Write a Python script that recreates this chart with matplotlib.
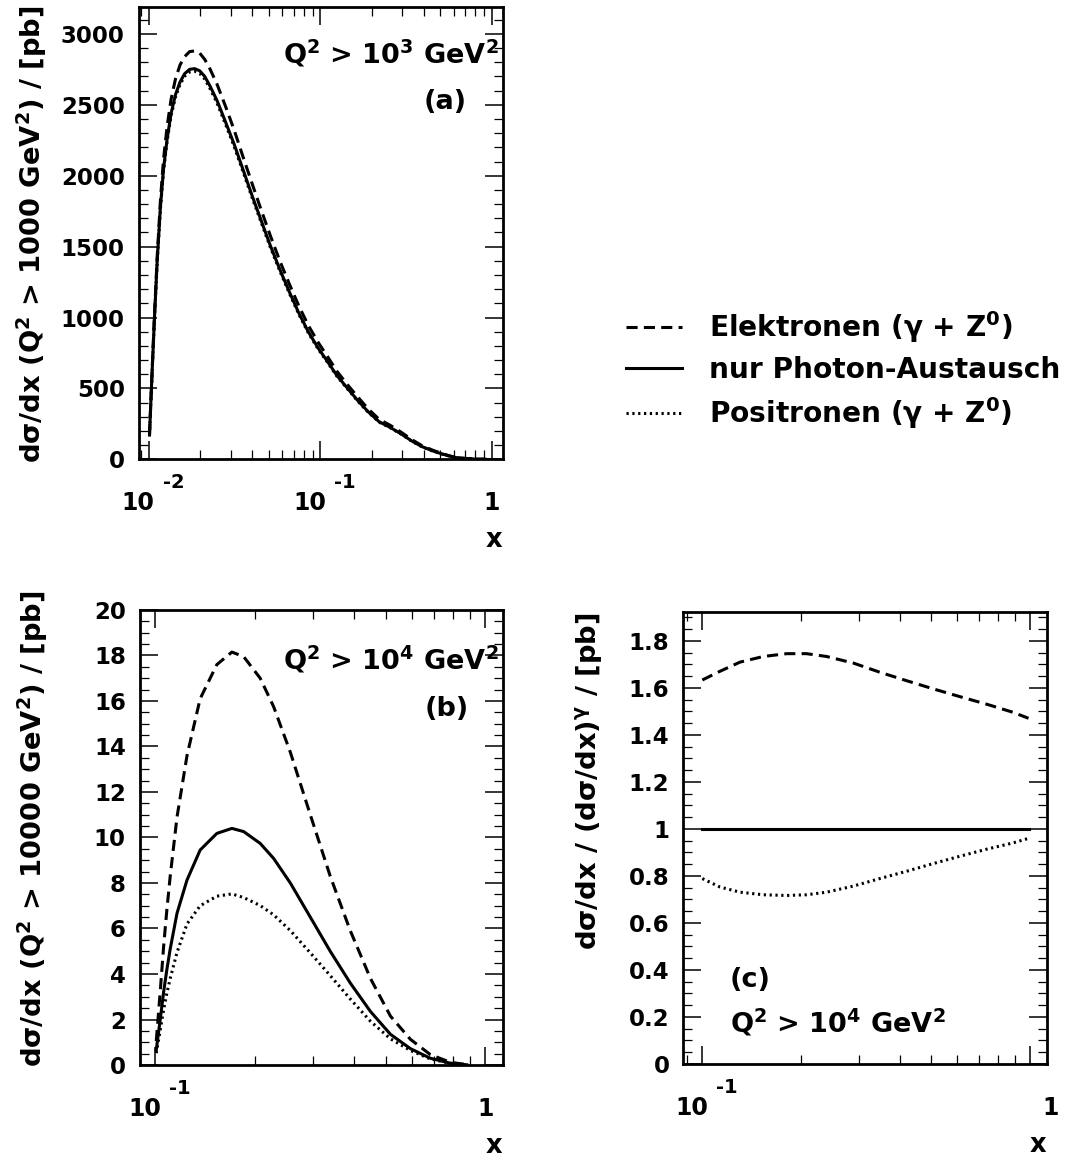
import matplotlib
matplotlib.use("Agg")
import matplotlib.pyplot as plt
from matplotlib.ticker import FixedLocator, LogLocator, NullFormatter, MultipleLocator, FormatStrFormatter
from matplotlib.transforms import blended_transform_factory, offset_copy

plt.rcParams['font.family'] = ['DejaVu Sans']
plt.rcParams['font.weight'] = 'bold'
plt.rcParams['mathtext.fontset'] = 'custom'
plt.rcParams['mathtext.rm'] = 'DejaVu Sans:bold'
plt.rcParams['mathtext.it'] = 'DejaVu Sans:bold'
plt.rcParams['mathtext.bf'] = 'DejaVu Sans:bold'
plt.rcParams['mathtext.sf'] = 'DejaVu Sans:bold'
plt.rcParams['mathtext.default'] = 'rm'
plt.rcParams['lines.scale_dashes'] = False

# panel (a): Q2 > 1000 GeV2
x_a = [0.0101, 0.0103, 0.0105, 0.0108, 0.0112, 0.0117, 0.0122, 0.0128, 0.0135, 0.0143,
       0.0152, 0.0162, 0.0173, 0.0185, 0.0198, 0.0212, 0.0228, 0.0250, 0.0280, 0.0315,
       0.0355, 0.040, 0.045, 0.051, 0.058, 0.066, 0.075, 0.085, 0.097, 0.11,
       0.125, 0.143, 0.165, 0.19, 0.22, 0.255, 0.295, 0.34, 0.39, 0.45,
       0.52, 0.60, 0.69, 0.80, 0.92]
gamma_a = [171, 420, 660, 1000, 1400, 1780, 2050, 2260, 2440, 2570,
           2660, 2720, 2750, 2755, 2740, 2700, 2630, 2530, 2380, 2220,
           2040, 1860, 1690, 1510, 1340, 1180, 1030, 900, 785, 690,
           590, 505, 415, 335, 265, 225, 180, 130, 90, 60,
           35, 14, 6, 1.5, 0]
elec_a = [172, 425, 670, 1020, 1430, 1830, 2120, 2350, 2540, 2680,
          2780, 2840, 2875, 2880, 2865, 2820, 2750, 2645, 2490, 2320,
          2130, 1945, 1765, 1580, 1400, 1235, 1080, 945, 825, 725,
          620, 530, 440, 355, 282, 240, 192, 140, 97, 65,
          38, 16, 7, 2, 0]
pos_a = [171, 418, 656, 993, 1390, 1768, 2036, 2245, 2424, 2553,
         2642, 2702, 2731, 2736, 2721, 2681, 2612, 2512, 2363, 2204,
         2025, 1846, 1677, 1498, 1329, 1170, 1021, 892, 778, 684,
         585, 500, 411, 332, 262, 223, 178, 129, 89, 59,
         35, 14, 6, 1.5, 0]

# panel (b): Q2 > 10000 GeV2
x_b = [0.1007, 0.1035, 0.106, 0.1084, 0.111, 0.1164, 0.1248, 0.1368, 0.1537, 0.1707,
       0.1853, 0.208, 0.2284, 0.2566, 0.295, 0.339, 0.390, 0.449, 0.516, 0.593,
       0.681, 0.783, 0.879]
gamma_b = [0.66, 1.98, 3.2, 4.18, 5.1, 6.67, 8.13, 9.45, 10.18, 10.40,
           10.26, 9.74, 9.08, 8.0, 6.5, 5.0, 3.6, 2.35, 1.35, 0.72,
           0.30, 0.08, 0.01]
elec_b = [1.05, 3.2, 5.2, 6.8, 8.3, 10.9, 13.6, 16.1, 17.6, 18.15,
          17.95, 17.0, 15.75, 13.75, 11.0, 8.3, 5.9, 3.8, 2.15, 1.13,
          0.46, 0.12, 0.015]
pos_b = [0.52, 1.52, 2.42, 3.15, 3.8, 4.95, 6.2, 7.0, 7.42, 7.52,
         7.36, 7.01, 6.60, 5.91, 4.93, 3.93, 2.90, 1.92, 1.15, 0.64,
         0.27, 0.073, 0.01]

# panel (c): ratio to photon exchange only
x_c = [0.1, 0.1132, 0.1303, 0.1535, 0.1808, 0.208, 0.2393, 0.289, 0.348, 0.420,
       0.507, 0.611, 0.737, 0.889, 0.989]
elec_c = [1.634, 1.671, 1.710, 1.734, 1.746, 1.746, 1.734, 1.706, 1.667, 1.631,
          1.596, 1.563, 1.531, 1.496, 1.471]
gamma_c = [1.0, 1.0, 1.0, 1.0, 1.0, 1.0, 1.0, 1.0, 1.0, 1.0,
           1.0, 1.0, 1.0, 1.0, 1.0]
pos_c = [0.789, 0.753, 0.731, 0.720, 0.717, 0.720, 0.731, 0.757, 0.789, 0.820,
         0.853, 0.884, 0.914, 0.941, 0.960]

# x tick labels: base and exponent
xt_a = [0.01, 0.1, 1]
xt_base_a = ['10', '10', '1']
xt_exp_a = ['-2', '-1', '']
xt_bc = [0.1, 1]
xt_base_bc = ['10', '1']
xt_exp_bc = ['-1', '']

labels = [r'Elektronen ($\gamma$ + Z$^0$)', 'nur Photon-Austausch', r'Positronen ($\gamma$ + Z$^0$)']

LW = 2.2
DASH = (0, (8, 4.5))
DOT = (0, (1.6, 2.6))
TICK_FS = 16.5
TEXT_FS = 19.5
YLAB_FS = 19.7


def style_axis(ax, xlim, ylim, xticks, xbase, xexp, ymaj, ymin, last_dx=0):
    ax.set_xscale('log')
    ax.set_xlim(*xlim)
    ax.set_ylim(*ylim)
    ax.xaxis.set_major_locator(FixedLocator(xticks))
    ax.xaxis.set_minor_locator(LogLocator(base=10, subs=range(2, 10)))
    ax.xaxis.set_minor_formatter(NullFormatter())
    ax.yaxis.set_major_locator(MultipleLocator(ymaj))
    ax.yaxis.set_minor_locator(MultipleLocator(ymin))
    ax.yaxis.set_major_formatter(FormatStrFormatter('%g'))
    ax.tick_params(which='both', direction='in', top=True, right=True, labelbottom=False)
    ax.tick_params(which='major', length=13, width=1.1)
    ax.tick_params(which='minor', length=6.5, width=0.9)
    ax.tick_params(axis='y', labelsize=TICK_FS, pad=10)
    for sp in ax.spines.values():
        sp.set_linewidth(2.0)

    # ROOT style log labels: 10 with raised exponent
    trans = blended_transform_factory(ax.transData, ax.transAxes)
    for i, (v, b, e) in enumerate(zip(xticks, xbase, xexp)):
        if e:
            tb = offset_copy(trans, fig=ax.figure, x=6, y=-51, units='dots')
            ax.text(v, 0, b, transform=tb, ha='right', va='baseline', fontsize=17)
            te = offset_copy(trans, fig=ax.figure, x=14, y=-29, units='dots')
            ax.text(v, 0, e, transform=te, ha='left', va='baseline', fontsize=14)
        else:
            dx = last_dx if i == len(xticks) - 1 else 0
            tb = offset_copy(trans, fig=ax.figure, x=dx, y=-51, units='dots')
            ax.text(v, 0, b, transform=tb, ha='center', va='baseline', fontsize=17)

    ax.text(1.0, -0.194, 'x', transform=ax.transAxes, ha='right', va='baseline',
            fontsize=18.5)


fig = plt.figure(figsize=(10.67, 11.59), dpi=100)

# (a)
ax_a = fig.add_axes([0.1300, 0.6037, 0.3411, 0.3903])
l1, = ax_a.plot(x_a, elec_a, color='black', lw=LW, linestyle=DASH)
l2, = ax_a.plot(x_a, gamma_a, color='black', lw=LW)
l3, = ax_a.plot(x_a, pos_a, color='black', lw=LW, linestyle=DOT)
style_axis(ax_a, (0.00874, 1.154), (0, 3190), xt_a, xt_base_a, xt_exp_a, 500, 100)
ax_a.text(-0.293, 1.004, r'd$\sigma$/dx (Q$^2$ > 1000 GeV$^2$) / [pb]', transform=ax_a.transAxes,
          rotation=90, ha='center', va='top', fontsize=YLAB_FS)
ax_a.text(0.990, 0.876, r'Q$^2$ > 10$^3$ GeV$^2$', transform=ax_a.transAxes,
          ha='right', va='baseline', fontsize=TEXT_FS)
ax_a.text(0.902, 0.774, '(a)', transform=ax_a.transAxes,
          ha='right', va='baseline', fontsize=TEXT_FS)

# (b)
ax_b = fig.add_axes([0.1309, 0.0811, 0.3402, 0.3926])
ax_b.plot(x_b, elec_b, color='black', lw=LW, linestyle=DASH)
ax_b.plot(x_b, gamma_b, color='black', lw=LW)
ax_b.plot(x_b, pos_b, color='black', lw=LW, linestyle=DOT)
style_axis(ax_b, (0.0897, 1.129), (0, 20), xt_bc, xt_base_bc, xt_exp_bc, 2, 0.5)
ax_b.text(-0.295, 1.042, r'd$\sigma$/dx (Q$^2$ > 10000 GeV$^2$) / [pb]', transform=ax_b.transAxes,
          rotation=90, ha='center', va='top', fontsize=YLAB_FS)
ax_b.text(0.990, 0.870, r'Q$^2$ > 10$^4$ GeV$^2$', transform=ax_b.transAxes,
          ha='right', va='baseline', fontsize=TEXT_FS)
ax_b.text(0.907, 0.767, '(b)', transform=ax_b.transAxes,
          ha='right', va='baseline', fontsize=TEXT_FS)

# (c)
ax_c = fig.add_axes([0.6404, 0.0820, 0.3406, 0.3903])
ax_c.plot(x_c, elec_c, color='black', lw=LW, linestyle=DASH)
ax_c.plot(x_c, gamma_c, color='black', lw=LW)
ax_c.plot(x_c, pos_c, color='black', lw=LW, linestyle=DOT)
style_axis(ax_c, (0.0875, 1.124), (0, 1.925), xt_bc, xt_base_bc, xt_exp_bc, 0.2, 0.05,
           last_dx=20)
ax_c.text(-0.26, 0.997, r'd$\sigma$/dx / (d$\sigma$/dx)$^\gamma$ / [pb]', transform=ax_c.transAxes,
          rotation=90, ha='center', va='top', fontsize=YLAB_FS)
ax_c.text(0.1285, 0.170, '(c)', transform=ax_c.transAxes,
          ha='left', va='baseline', fontsize=TEXT_FS)
ax_c.text(0.1285, 0.0685, r'Q$^2$ > 10$^4$ GeV$^2$', transform=ax_c.transAxes,
          ha='left', va='baseline', fontsize=TEXT_FS)

fig.legend([l1, l2, l3], labels, loc='center left', bbox_to_anchor=(0.5867, 0.6808),
           frameon=False, fontsize=20.2, handlelength=2.0, handletextpad=0.95,
           labelspacing=0.4, borderpad=0, borderaxespad=0)

fig.savefig('out.png', dpi=100)
